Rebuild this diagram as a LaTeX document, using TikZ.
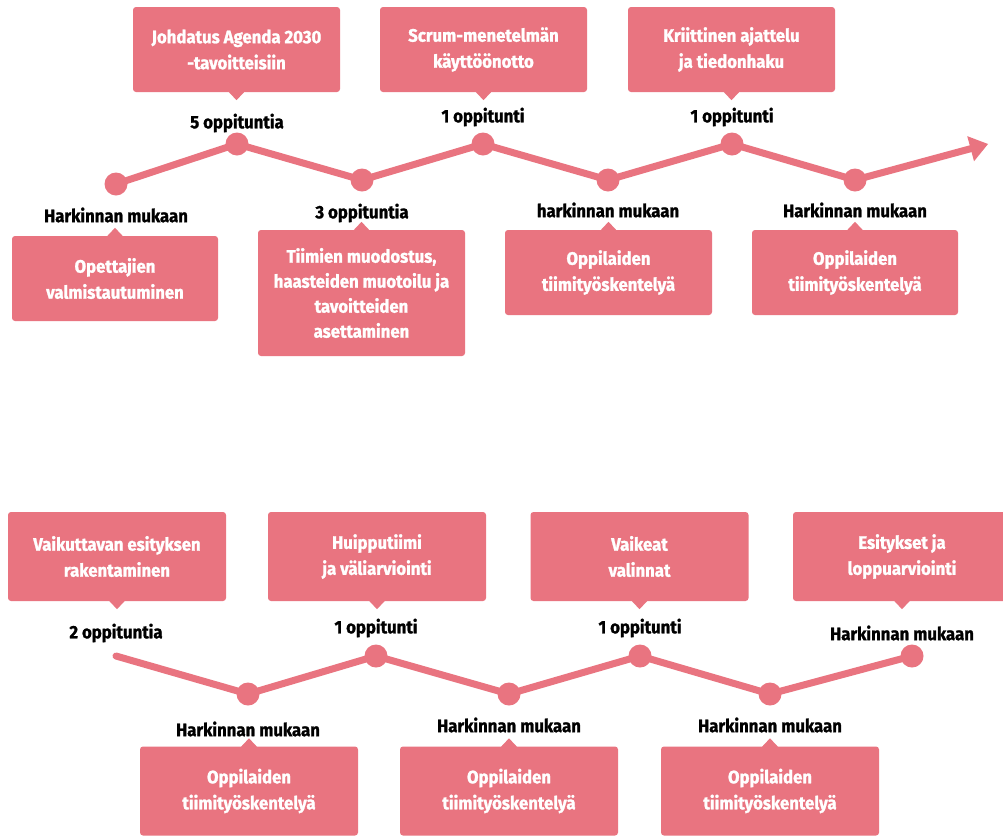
\documentclass[tikz,border=0pt]{standalone}
\usepackage{fontspec}
\setmainfont{Fira Sans}[FakeStretch=0.93, BoldFeatures={FakeBold=1.3}]
\usetikzlibrary{calc}
\definecolor{rosa}{RGB}{233,116,128}
\tikzset{
  box/.style={fill=rosa, rounded corners=3pt, text=white, font=\fontsize{18}{26}\selectfont\bfseries, align=center, inner sep=0pt},
  tbox/.style={box, minimum width=207pt, minimum height=85pt},
  bbox/.style={box, minimum width=218pt, minimum height=89pt},
  lab/.style={font=\fontsize{18}{20}\selectfont\bfseries, text=black, inner sep=0pt},
  dot/.style={circle, fill=rosa, minimum size=23pt, inner sep=0pt},
  track/.style={draw=rosa, line width=7pt, line cap=round, line join=round},
}
\newcommand{\ptrdown}[1]{\fill[rosa] ([xshift=-8pt,yshift=0.5pt]#1.south) -- ([xshift=8pt,yshift=0.5pt]#1.south) -- ([yshift=-8pt]#1.south) -- cycle;}
\newcommand{\ptrup}[1]{\fill[rosa] ([xshift=-8pt,yshift=-0.5pt]#1.north) -- ([xshift=8pt,yshift=-0.5pt]#1.north) -- ([yshift=8pt]#1.north) -- cycle;}
\begin{document}
\begin{tikzpicture}[x=1pt,y=-1pt]
\clip (0,0) rectangle (1003,836);
\fill[white] (0,0) rectangle (1003,836);
% ---------- top row ----------
\node[dot] (p1) at (116,184) {};
\node[dot] (p2) at (237,144) {};
\node[dot] (p3) at (362,180) {};
\node[dot] (p4) at (483,144) {};
\node[dot] (p5) at (608,180) {};
\node[dot] (p6) at (732,144) {};
\node[dot] (p7) at (855,180) {};
\coordinate (pend) at (988,144);
\coordinate (abase) at ($(pend)!18pt!(p7.center)$);
\draw[track] (p1.center) -- (p2.center) -- (p3.center) -- (p4.center) -- (p5.center) -- (p6.center) -- (p7.center) -- (abase);
\fill[rosa] (pend) -- ($(abase)!13pt!90:(pend)$) -- ($(abase)!13pt!-90:(pend)$) -- cycle;

\node[tbox] (b1) at (236.5,49.5) {Johdatus Agenda 2030\\-tavoitteisiin};
\node[tbox] (b2) at (483.5,49.5) {Scrum-menetelmän\\käyttöönotto};
\node[tbox] (b3) at (731.5,49.5) {Kriittinen ajattelu\\ja tiedonhaku};
\ptrdown{b1}\ptrdown{b2}\ptrdown{b3}
\node[lab] (l1) at (237,123) {5 oppituntia};
\node[lab] (l2) at (483,117) {1 oppitunti};
\node[lab] (l3) at (732,117) {1 oppitunti};

\node[tbox, minimum width=206pt] (c1) at (115,278.5) {Opettajien\\valmistautuminen};
\node[tbox, minimum height=126pt, font=\fontsize{18}{25}\selectfont\bfseries] (c2) at (361.5,293) {Tiimien muodostus,\\haasteiden muotoilu ja\\tavoitteiden\\asettaminen};
\node[tbox] (c3) at (608.5,272.5) {Oppilaiden\\tiimityöskentelyä};
\node[tbox, minimum width=206pt] (c4) at (855,272.5) {Oppilaiden\\tiimityöskentelyä};
\ptrup{c1}\ptrup{c2}\ptrup{c3}\ptrup{c4}
\node[lab] (m1) at (116,215) {Harkinnan mukaan};
\node[lab] (m2) at (362,213) {3 oppituntia};
\node[lab] (m3) at (608,210) {harkinnan mukaan};
\node[lab] (m4) at (855,210) {Harkinnan mukaan};

% ---------- bottom row ----------
\coordinate (q0) at (116,656);
\node[dot] (q1) at (248,694) {};
\node[dot] (q2) at (376,656) {};
\node[dot] (q3) at (509,694) {};
\node[dot] (q4) at (640,656) {};
\node[dot] (q5) at (770,694) {};
\node[dot] (q6) at (912,656) {};
\draw[track] (q0) -- (q1.center) -- (q2.center) -- (q3.center) -- (q4.center) -- (q5.center) -- (q6.center);

\node[bbox] (d1) at (117,556.5) {Vaikuttavan esityksen\\rakentaminen};
\node[bbox] (d2) at (377,556.5) {Huipputiimi\\ja väliarviointi};
\node[bbox] (d3) at (639.5,556.5) {Vaikeat\\valinnat};
\node[bbox] (d4) at (902,556.5) {Esitykset ja\\loppuarviointi};
\ptrdown{d1}\ptrdown{d2}\ptrdown{d3}\ptrdown{d4}
\node[lab] (n1) at (116,633) {2 oppituntia};
\node[lab] (n2) at (376,628) {1 oppitunti};
\node[lab] (n3) at (640,628) {1 oppitunti};
\node[lab] (n4) at (902,633) {Harkinnan mukaan};

\node[bbox] (e1) at (249,791) {Oppilaiden\\tiimityöskentelyä};
\node[bbox] (e2) at (509,791) {Oppilaiden\\tiimityöskentelyä};
\node[bbox] (e3) at (770,791) {Oppilaiden\\tiimityöskentelyä};
\ptrup{e1}\ptrup{e2}\ptrup{e3}
\node[lab] (o1) at (248,729) {Harkinnan mukaan};
\node[lab] (o2) at (509,725) {Harkinnan mukaan};
\node[lab] (o3) at (770,725) {Harkinnan mukaan};
\end{tikzpicture}
\end{document}
